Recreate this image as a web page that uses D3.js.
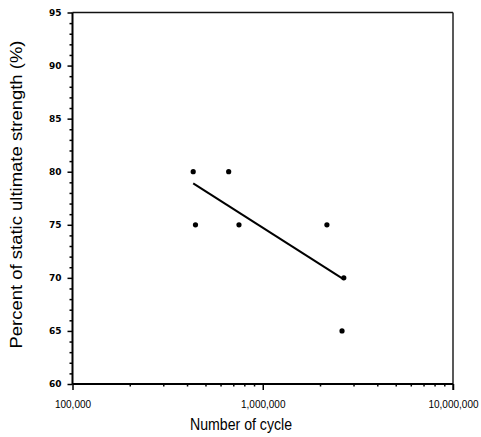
<!DOCTYPE html>
<html>
<head>
<meta charset="utf-8">
<script src="https://cdn.jsdelivr.net/npm/d3@7/dist/d3.min.js"></script>
<style>
  html, body { margin: 0; padding: 0; background: #fff; }
  svg { display: block; }
</style>
</head>
<body>
<svg id="chart" width="481" height="437"></svg>
<script>
// Fatigue test results: cycles to failure vs. applied load level
const cycles  = [431000, 662000, 443000, 750000, 2174000, 2667000, 2610000];
const percent = [80, 80, 75, 75, 75, 70, 65];

// Fitted trend line (start and end points)
const fitCycles  = [431000, 2667000];
const fitPercent = [78.9, 69.85];

const yTicks = [60, 65, 70, 75, 80, 85, 90, 95];
const yMinorTicks = d3.range(60, 96, 1).filter(v => v % 5 !== 0);
const xTicks = [100000, 1000000, 10000000];
const xMinorTicks = [2,3,4,5,6,7,8,9].flatMap(m => [m * 1e5, m * 1e6]);

const svg = d3.select("#chart");
const plotLeft = 72.5, plotRight = 453, plotTop = 12.5, plotBottom = 384;

const x = d3.scaleLog().domain([1e5, 1e7]).range([plotLeft, plotRight]);
const y = d3.scaleLinear().domain([60, 95]).range([plotBottom, plotTop]);

// Frame: top and right edges
svg.append("line")
  .attr("x1", plotLeft).attr("x2", plotRight).attr("y1", plotTop).attr("y2", plotTop)
  .attr("stroke", "#111").attr("stroke-width", 1.5);
svg.append("line")
  .attr("x1", plotRight).attr("x2", plotRight).attr("y1", plotTop).attr("y2", plotBottom + 6)
  .attr("stroke", "#222").attr("stroke-width", 1.5);

// Y axis
const yMinor = svg.append("g").attr("transform", `translate(${plotLeft},0)`)
  .call(d3.axisLeft(y).tickValues(yMinorTicks).tickSize(3).tickFormat(""));
yMinor.select(".domain").remove();
yMinor.selectAll("line").attr("stroke", "#000").attr("stroke-width", 1.5);

const yAxis = svg.append("g").attr("transform", `translate(${plotLeft},0)`)
  .call(d3.axisLeft(y).tickValues(yTicks).tickSize(5).tickPadding(6).tickFormat(d3.format("d")));
yAxis.select(".domain").attr("stroke", "#000").attr("stroke-width", 2).attr("d", `M0,${plotTop}V${plotBottom}`);
yAxis.selectAll("line").attr("stroke", "#000").attr("stroke-width", 1.5);
yAxis.selectAll("text")
  .attr("font-family", "'DejaVu Sans', sans-serif")
  .attr("font-weight", "bold")
  .attr("font-size", 9)
  .attr("fill", "#000");

// X axis
const xMinor = svg.append("g").attr("transform", `translate(0,${plotBottom})`)
  .call(d3.axisBottom(x).tickValues(xMinorTicks).tickSize(2.5).tickFormat(""));
xMinor.select(".domain").remove();
xMinor.selectAll("line").attr("stroke", "#000").attr("stroke-width", 1.5);

const xAxis = svg.append("g").attr("transform", `translate(0,${plotBottom})`)
  .call(d3.axisBottom(x).tickValues(xTicks).tickSize(6).tickPadding(11).tickFormat(d3.format(",")));
xAxis.select(".domain").attr("stroke", "#000").attr("stroke-width", 2).attr("d", `M${plotLeft},0H${plotRight}`);
xAxis.selectAll("line").attr("stroke", "#000").attr("stroke-width", 1.5);
xAxis.selectAll("text")
  .attr("font-family", "'Liberation Sans', Arial, sans-serif")
  .attr("font-size", 10)
  .attr("fill", "#000");

// Axis titles
svg.append("text")
  .attr("x", (190 + 292)/2).attr("y", 430)
  .attr("text-anchor", "middle")
  .attr("font-family", "'Liberation Sans', Arial, sans-serif")
  .attr("font-size", 16)
  .attr("textLength", 102).attr("lengthAdjust", "spacingAndGlyphs")
  .attr("fill", "#000")
  .text("Number of cycle");

svg.append("text")
  .attr("transform", "translate(22,194.5) rotate(-90)")
  .attr("text-anchor", "middle")
  .attr("font-family", "'Liberation Sans', Arial, sans-serif")
  .attr("font-size", 16)
  .attr("textLength", 308).attr("lengthAdjust", "spacingAndGlyphs")
  .attr("fill", "#000")
  .text("Percent of static ultimate strength (%)");

// Trend line
const fit = fitCycles.map((c, i) => [c, fitPercent[i]]);
svg.append("path")
  .datum(fit)
  .attr("fill", "none")
  .attr("stroke", "#000")
  .attr("stroke-width", 2)
  .attr("d", d3.line().x(d => x(d[0])).y(d => y(d[1])));

// Data points
svg.append("g").selectAll("circle")
  .data(cycles.map((c, i) => [c, percent[i]]))
  .join("circle")
  .attr("cx", d => x(d[0]))
  .attr("cy", d => y(d[1]))
  .attr("r", 2.6)
  .attr("fill", "#000");
</script>
</body>
</html>
